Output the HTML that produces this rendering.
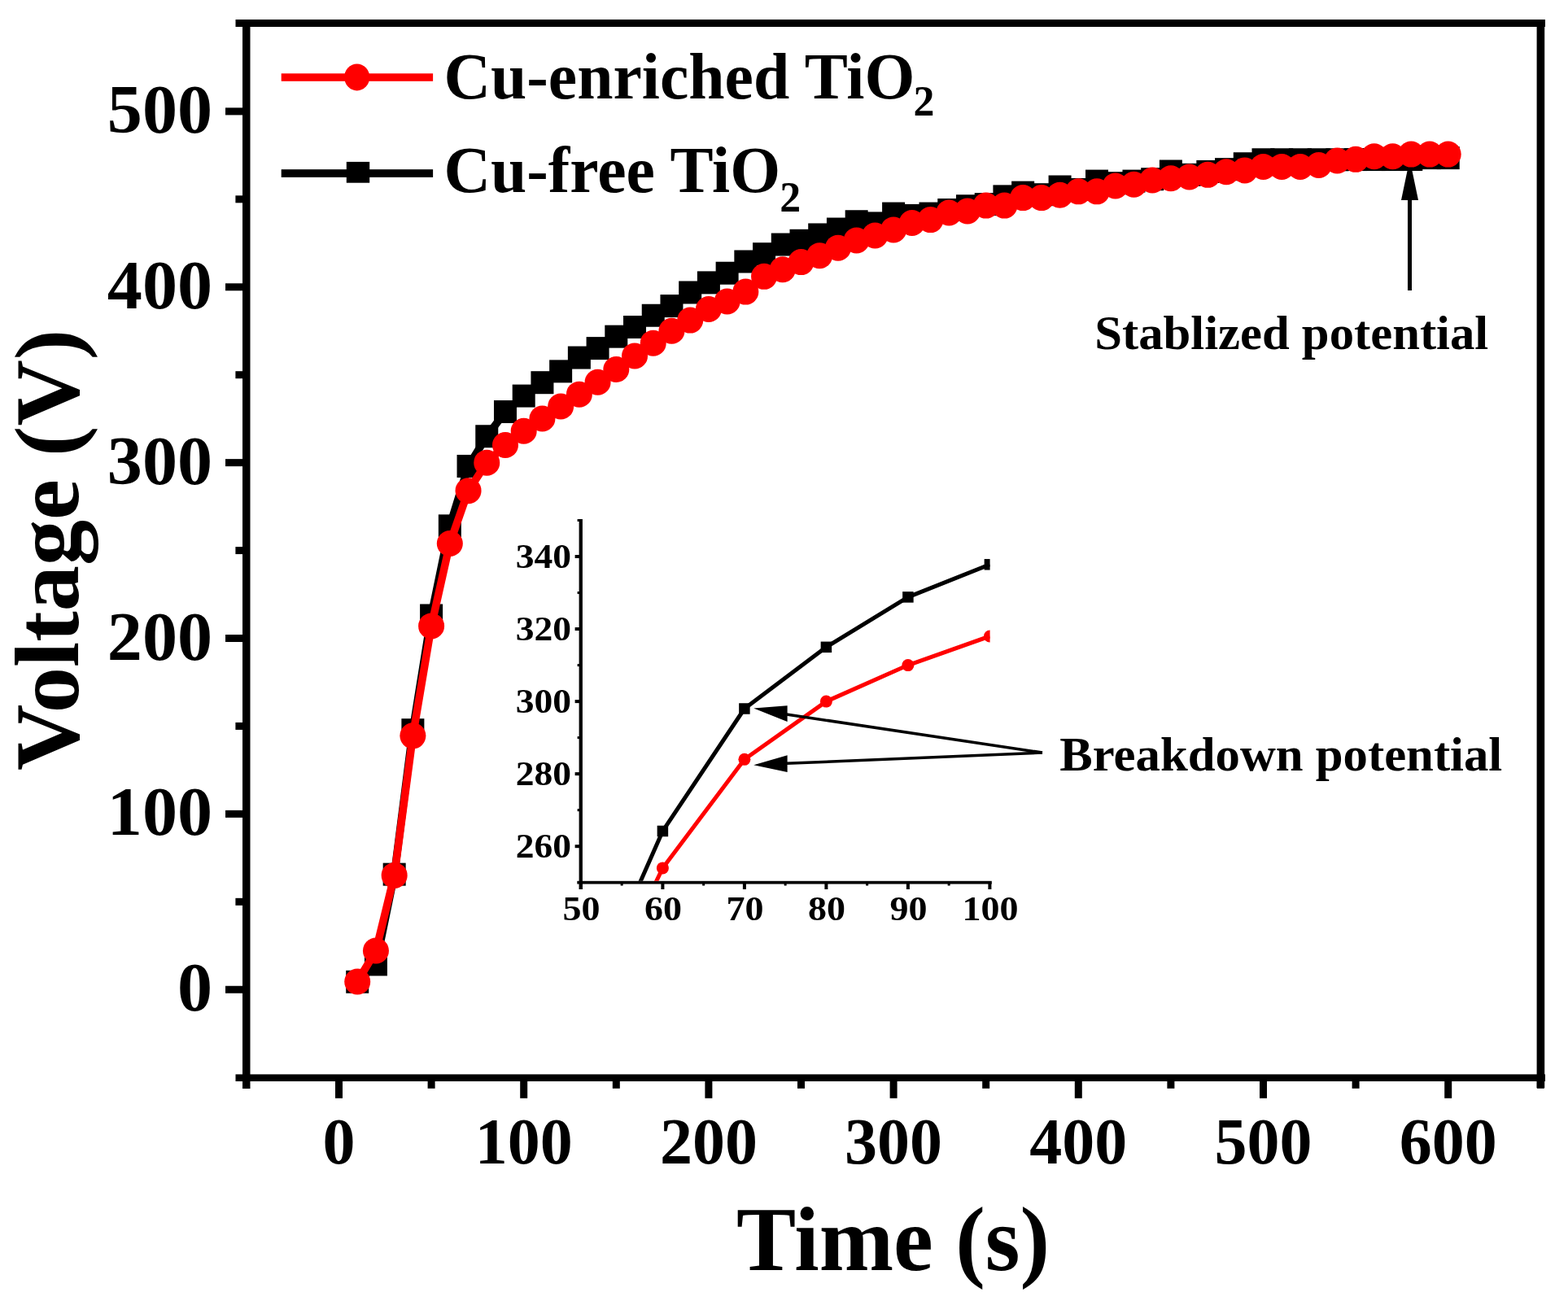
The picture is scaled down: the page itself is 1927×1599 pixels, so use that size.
<!DOCTYPE html>
<html><head><meta charset="utf-8"><title>Voltage vs Time</title>
<style>
html,body{margin:0;padding:0;background:#fff;overflow:hidden;}
svg{display:block;}
text{font-family:"Liberation Serif","Times New Roman",serif;font-weight:bold;fill:#000;}
</style></head><body>
<svg width="1927" height="1599" viewBox="0 0 1927 1599">
<rect x="0" y="0" width="1927" height="1599" fill="#fff"/>
<defs><clipPath id="ic"><rect x="716" y="630" width="500.6" height="452.7"/></clipPath></defs>
<polyline fill="none" stroke="#000" stroke-width="9.5" stroke-linejoin="round" points="439.22,1206.75 461.94,1185.38 484.66,1074.64 507.38,897.19 530.1,756.45 552.82,646.35 575.54,572.96 598.26,536.26 620.98,506.04 643.7,486.61 666.42,470.2 689.14,456.39 711.86,439.55 734.58,428.11 757.3,413.65 780.02,401.99 802.74,387.74 825.46,376.08 848.18,359.46 870.9,347.37 893.62,335.72 916.34,321.47 939.06,312.19 961.78,300.53 984.5,295.78 1007.22,288.44 1029.94,281.53 1052.66,272.25 1075.38,274.41 1098.1,262.54 1120.82,264.91 1143.54,262.54 1166.26,258 1188.98,253.25 1211.7,251.1 1234.42,241.38 1257.14,236.63 1279.86,239.22 1302.58,229.51 1325.3,232.96 1348.02,222.6 1370.74,225.19 1393.46,222.6 1416.18,220.23 1438.9,210.51 1461.62,214.83 1484.34,210.94 1507.06,208.14 1529.78,201.23 1552.5,196.26 1575.22,196.26 1597.94,196.26 1620.66,196.26 1643.38,196.26 1666.1,196.05 1688.82,196.05 1711.54,196.05 1734.26,196.05 1756.98,194.11 1779.7,194.11"/>
<g fill="#000"><rect x="425.22" y="1192.75" width="28" height="28"/><rect x="447.94" y="1171.38" width="28" height="28"/><rect x="470.66" y="1060.64" width="28" height="28"/><rect x="493.38" y="883.19" width="28" height="28"/><rect x="516.1" y="742.45" width="28" height="28"/><rect x="538.82" y="632.35" width="28" height="28"/><rect x="561.54" y="558.96" width="28" height="28"/><rect x="584.26" y="522.26" width="28" height="28"/><rect x="606.98" y="492.04" width="28" height="28"/><rect x="629.7" y="472.61" width="28" height="28"/><rect x="652.42" y="456.2" width="28" height="28"/><rect x="675.14" y="442.39" width="28" height="28"/><rect x="697.86" y="425.55" width="28" height="28"/><rect x="720.58" y="414.11" width="28" height="28"/><rect x="743.3" y="399.65" width="28" height="28"/><rect x="766.02" y="387.99" width="28" height="28"/><rect x="788.74" y="373.74" width="28" height="28"/><rect x="811.46" y="362.08" width="28" height="28"/><rect x="834.18" y="345.46" width="28" height="28"/><rect x="856.9" y="333.37" width="28" height="28"/><rect x="879.62" y="321.72" width="28" height="28"/><rect x="902.34" y="307.47" width="28" height="28"/><rect x="925.06" y="298.19" width="28" height="28"/><rect x="947.78" y="286.53" width="28" height="28"/><rect x="970.5" y="281.78" width="28" height="28"/><rect x="993.22" y="274.44" width="28" height="28"/><rect x="1015.94" y="267.53" width="28" height="28"/><rect x="1038.66" y="258.25" width="28" height="28"/><rect x="1061.38" y="260.41" width="28" height="28"/><rect x="1084.1" y="248.54" width="28" height="28"/><rect x="1106.82" y="250.91" width="28" height="28"/><rect x="1129.54" y="248.54" width="28" height="28"/><rect x="1152.26" y="244" width="28" height="28"/><rect x="1174.98" y="239.25" width="28" height="28"/><rect x="1197.7" y="237.1" width="28" height="28"/><rect x="1220.42" y="227.38" width="28" height="28"/><rect x="1243.14" y="222.63" width="28" height="28"/><rect x="1265.86" y="225.22" width="28" height="28"/><rect x="1288.58" y="215.51" width="28" height="28"/><rect x="1311.3" y="218.96" width="28" height="28"/><rect x="1334.02" y="208.6" width="28" height="28"/><rect x="1356.74" y="211.19" width="28" height="28"/><rect x="1379.46" y="208.6" width="28" height="28"/><rect x="1402.18" y="206.23" width="28" height="28"/><rect x="1424.9" y="196.51" width="28" height="28"/><rect x="1447.62" y="200.83" width="28" height="28"/><rect x="1470.34" y="196.94" width="28" height="28"/><rect x="1493.06" y="194.14" width="28" height="28"/><rect x="1515.78" y="187.23" width="28" height="28"/><rect x="1538.5" y="182.26" width="28" height="28"/><rect x="1561.22" y="182.26" width="28" height="28"/><rect x="1583.94" y="182.26" width="28" height="28"/><rect x="1606.66" y="182.26" width="28" height="28"/><rect x="1629.38" y="182.26" width="28" height="28"/><rect x="1652.1" y="182.05" width="28" height="28"/><rect x="1674.82" y="182.05" width="28" height="28"/><rect x="1697.54" y="182.05" width="28" height="28"/><rect x="1720.26" y="182.05" width="28" height="28"/><rect x="1742.98" y="180.11" width="28" height="28"/><rect x="1765.7" y="180.11" width="28" height="28"/></g>
<polyline fill="none" stroke="#f00" stroke-width="9.5" stroke-linejoin="round" points="439.22,1206.54 461.94,1168.54 484.66,1075.93 507.38,904.32 530.1,769.4 552.82,667.94 575.54,603.18 598.26,568.64 620.98,547.05 643.7,529.78 666.42,514.46 689.14,499.56 711.86,484.67 734.58,469.77 757.3,454.01 780.02,437.39 802.74,421.63 825.46,406.74 848.18,393.57 870.9,379.97 893.62,370.47 916.34,358.6 939.06,339.82 961.78,331.18 984.5,322.12 1007.22,314.13 1029.94,304.63 1052.66,295.56 1075.38,289.52 1098.1,282.4 1120.82,273.98 1143.54,270.09 1166.26,261.46 1188.98,259.51 1211.7,252.61 1234.42,252.61 1257.14,243.11 1279.86,243.11 1302.58,239.65 1325.3,235.34 1348.02,235.34 1370.74,228.43 1393.46,226.7 1416.18,221.52 1438.9,219.15 1461.62,217.42 1484.34,214.83 1507.06,211.16 1529.78,209.43 1552.5,204.9 1575.22,204.9 1597.94,204.9 1620.66,202.96 1643.38,197.56 1666.1,195.83 1688.82,192.16 1711.54,192.16 1734.26,189.57 1756.98,189.57 1779.7,189.57"/>
<g fill="#f00"><circle cx="439.22" cy="1206.54" r="16"/><circle cx="461.94" cy="1168.54" r="16"/><circle cx="484.66" cy="1075.93" r="16"/><circle cx="507.38" cy="904.32" r="16"/><circle cx="530.1" cy="769.4" r="16"/><circle cx="552.82" cy="667.94" r="16"/><circle cx="575.54" cy="603.18" r="16"/><circle cx="598.26" cy="568.64" r="16"/><circle cx="620.98" cy="547.05" r="16"/><circle cx="643.7" cy="529.78" r="16"/><circle cx="666.42" cy="514.46" r="16"/><circle cx="689.14" cy="499.56" r="16"/><circle cx="711.86" cy="484.67" r="16"/><circle cx="734.58" cy="469.77" r="16"/><circle cx="757.3" cy="454.01" r="16"/><circle cx="780.02" cy="437.39" r="16"/><circle cx="802.74" cy="421.63" r="16"/><circle cx="825.46" cy="406.74" r="16"/><circle cx="848.18" cy="393.57" r="16"/><circle cx="870.9" cy="379.97" r="16"/><circle cx="893.62" cy="370.47" r="16"/><circle cx="916.34" cy="358.6" r="16"/><circle cx="939.06" cy="339.82" r="16"/><circle cx="961.78" cy="331.18" r="16"/><circle cx="984.5" cy="322.12" r="16"/><circle cx="1007.22" cy="314.13" r="16"/><circle cx="1029.94" cy="304.63" r="16"/><circle cx="1052.66" cy="295.56" r="16"/><circle cx="1075.38" cy="289.52" r="16"/><circle cx="1098.1" cy="282.4" r="16"/><circle cx="1120.82" cy="273.98" r="16"/><circle cx="1143.54" cy="270.09" r="16"/><circle cx="1166.26" cy="261.46" r="16"/><circle cx="1188.98" cy="259.51" r="16"/><circle cx="1211.7" cy="252.61" r="16"/><circle cx="1234.42" cy="252.61" r="16"/><circle cx="1257.14" cy="243.11" r="16"/><circle cx="1279.86" cy="243.11" r="16"/><circle cx="1302.58" cy="239.65" r="16"/><circle cx="1325.3" cy="235.34" r="16"/><circle cx="1348.02" cy="235.34" r="16"/><circle cx="1370.74" cy="228.43" r="16"/><circle cx="1393.46" cy="226.7" r="16"/><circle cx="1416.18" cy="221.52" r="16"/><circle cx="1438.9" cy="219.15" r="16"/><circle cx="1461.62" cy="217.42" r="16"/><circle cx="1484.34" cy="214.83" r="16"/><circle cx="1507.06" cy="211.16" r="16"/><circle cx="1529.78" cy="209.43" r="16"/><circle cx="1552.5" cy="204.9" r="16"/><circle cx="1575.22" cy="204.9" r="16"/><circle cx="1597.94" cy="204.9" r="16"/><circle cx="1620.66" cy="202.96" r="16"/><circle cx="1643.38" cy="197.56" r="16"/><circle cx="1666.1" cy="195.83" r="16"/><circle cx="1688.82" cy="192.16" r="16"/><circle cx="1711.54" cy="192.16" r="16"/><circle cx="1734.26" cy="189.57" r="16"/><circle cx="1756.98" cy="189.57" r="16"/><circle cx="1779.7" cy="189.57" r="16"/></g>
<g fill="#000">
<rect x="289.5" y="24" width="1609.5" height="9"/>
<rect x="289.5" y="1320.4" width="1609.5" height="8.6"/>
<rect x="298" y="24" width="9.5" height="1314"/>
<rect x="1888.6" y="24" width="9.6" height="1313"/>
</g>
<g fill="#000"><rect x="277" y="1211.75" width="21.5" height="9"/><rect x="277" y="995.88" width="21.5" height="9"/><rect x="277" y="780.01" width="21.5" height="9"/><rect x="277" y="564.14" width="21.5" height="9"/><rect x="277" y="348.27" width="21.5" height="9"/><rect x="277" y="132.4" width="21.5" height="9"/><rect x="289.4" y="1103.82" width="9" height="9"/><rect x="289.4" y="887.94" width="9" height="9"/><rect x="289.4" y="672.07" width="9" height="9"/><rect x="289.4" y="456.2" width="9" height="9"/><rect x="289.4" y="240.33" width="9" height="9"/><rect x="412" y="1328" width="9" height="21.8"/><rect x="639.2" y="1328" width="9" height="21.8"/><rect x="866.4" y="1328" width="9" height="21.8"/><rect x="1093.6" y="1328" width="9" height="21.8"/><rect x="1320.8" y="1328" width="9" height="21.8"/><rect x="1548" y="1328" width="9" height="21.8"/><rect x="1775.2" y="1328" width="9" height="21.8"/><rect x="525.6" y="1328" width="9" height="9.8"/><rect x="752.8" y="1328" width="9" height="9.8"/><rect x="980" y="1328" width="9" height="9.8"/><rect x="1207.2" y="1328" width="9" height="9.8"/><rect x="1434.4" y="1328" width="9" height="9.8"/><rect x="1661.6" y="1328" width="9" height="9.8"/><rect x="1888.8" y="1328" width="9" height="9.8"/></g>
<g font-size="84" text-anchor="end"><text transform="translate(261,1242.25) scale(1.025,1)">0</text><text transform="translate(261,1026.38) scale(1.025,1)">100</text><text transform="translate(261,810.51) scale(1.025,1)">200</text><text transform="translate(261,594.64) scale(1.025,1)">300</text><text transform="translate(261,378.77) scale(1.025,1)">400</text><text transform="translate(261,162.9) scale(1.025,1)">500</text></g>
<g font-size="80" text-anchor="middle"><text x="416.5" y="1430.3">0</text><text x="643.7" y="1430.3">100</text><text x="870.9" y="1430.3">200</text><text x="1098.1" y="1430.3">300</text><text x="1325.3" y="1430.3">400</text><text x="1552.5" y="1430.3">500</text><text x="1779.7" y="1430.3">600</text></g>
<text font-size="112.4" transform="translate(95.8,0) rotate(-90)" x="-947" y="0">Voltage (V)</text>
<text font-size="112.3" transform="translate(905,1560.7) scale(0.977,1)">Time (s)</text>
<rect x="345.7" y="90.3" width="186.4" height="9.5" fill="#f00"/>
<ellipse cx="438.7" cy="94.9" rx="15.5" ry="16.5" fill="#f00"/>
<rect x="345.7" y="208.2" width="186.4" height="9.7" fill="#000"/>
<rect x="425.8" y="198.9" width="28.4" height="25.8" fill="#000"/>
<text font-size="80.7" transform="translate(545.5,120.5) scale(0.987,1)">Cu-enriched TiO<tspan font-size="52.5" dx="-2" dy="21.5">2</tspan></text>
<text font-size="80.7" transform="translate(545.5,236.4) scale(0.987,1)">Cu-free TiO<tspan font-size="52.5" dx="-1" dy="23.4">2</tspan></text>
<rect x="1730" y="240" width="5" height="117" fill="#000"/>
<polygon points="1729.5,210 1735.5,210 1743,246 1722,246" fill="#000"/>
<text font-size="59" transform="translate(1345.2,429) scale(1.029,1)">Stablized potential</text>
<g fill="#000"><rect x="711.6" y="638" width="4.3" height="455"/><rect x="709.3" y="1082.8" width="509.5" height="3.7"/><rect x="706.6" y="1038.18" width="6" height="4"/><rect x="706.6" y="949.14" width="6" height="4"/><rect x="706.6" y="860.1" width="6" height="4"/><rect x="706.6" y="771.06" width="6" height="4"/><rect x="706.6" y="682.02" width="6" height="4"/><rect x="709.6" y="994.16" width="3" height="3"/><rect x="709.6" y="905.12" width="3" height="3"/><rect x="709.6" y="816.08" width="3" height="3"/><rect x="709.6" y="727.04" width="3" height="3"/><rect x="709.6" y="638" width="3" height="3"/><rect x="711.9" y="1085" width="4" height="8"/><rect x="812.4" y="1085" width="4" height="8"/><rect x="912.9" y="1085" width="4" height="8"/><rect x="1013.4" y="1085" width="4" height="8"/><rect x="1113.9" y="1085" width="4" height="8"/><rect x="1214.4" y="1085" width="4" height="8"/><rect x="762.65" y="1085" width="3" height="3.5"/><rect x="863.15" y="1085" width="3" height="3.5"/><rect x="963.65" y="1085" width="3" height="3.5"/><rect x="1064.15" y="1085" width="3" height="3.5"/><rect x="1164.65" y="1085" width="3" height="3.5"/></g>
<g font-size="43" text-anchor="end"><text transform="translate(702,1054.08) scale(1.06,1)">260</text><text transform="translate(702,965.04) scale(1.06,1)">280</text><text transform="translate(702,876) scale(1.06,1)">300</text><text transform="translate(702,786.96) scale(1.06,1)">320</text><text transform="translate(702,697.92) scale(1.06,1)">340</text></g>
<g font-size="43" text-anchor="middle"><text transform="translate(714.4,1131) scale(1.07,1)">50</text><text transform="translate(814.9,1131) scale(1.07,1)">60</text><text transform="translate(915.4,1131) scale(1.07,1)">70</text><text transform="translate(1015.9,1131) scale(1.07,1)">80</text><text transform="translate(1116.4,1131) scale(1.07,1)">90</text><text transform="translate(1216.9,1131) scale(1.07,1)">100</text></g>
<g clip-path="url(#ic)">
<polyline fill="none" stroke="#000" stroke-width="5" stroke-linejoin="round" points="713.9,1249.42 814.4,1021.48 914.9,871 1015.4,795.32 1115.9,733.88 1216.4,693.81"/>
<g fill="#000"><rect x="807.65" y="1014.73" width="13.5" height="13.5"/><rect x="908.15" y="864.25" width="13.5" height="13.5"/><rect x="1008.65" y="788.57" width="13.5" height="13.5"/><rect x="1109.15" y="727.13" width="13.5" height="13.5"/><rect x="1209.65" y="687.06" width="13.5" height="13.5"/></g>
<polyline fill="none" stroke="#f00" stroke-width="5" stroke-linejoin="round" points="713.9,1276.14 814.4,1066.89 914.9,933.33 1015.4,862.1 1115.9,817.58 1216.4,781.96"/>
<g fill="#f00"><circle cx="814.4" cy="1066.89" r="7.5"/><circle cx="914.9" cy="933.33" r="7.5"/><circle cx="1015.4" cy="862.1" r="7.5"/><circle cx="1115.9" cy="817.58" r="7.5"/><circle cx="1216.4" cy="781.96" r="7.5"/></g>
</g>
<g stroke="#000" stroke-width="3.5" fill="none"><line x1="960" y1="877" x2="1281" y2="925"/><line x1="960" y1="938.6" x2="1281" y2="925"/></g>
<polygon points="926.2,870.5 967.6,867.2 967.6,886.9" fill="#000"/>
<polygon points="926.2,940.3 967.6,928.3 967.6,949" fill="#000"/>
<text font-size="59" transform="translate(1302.2,946.8) scale(1.03,1)">Breakdown potential</text>
</svg>
</body></html>
